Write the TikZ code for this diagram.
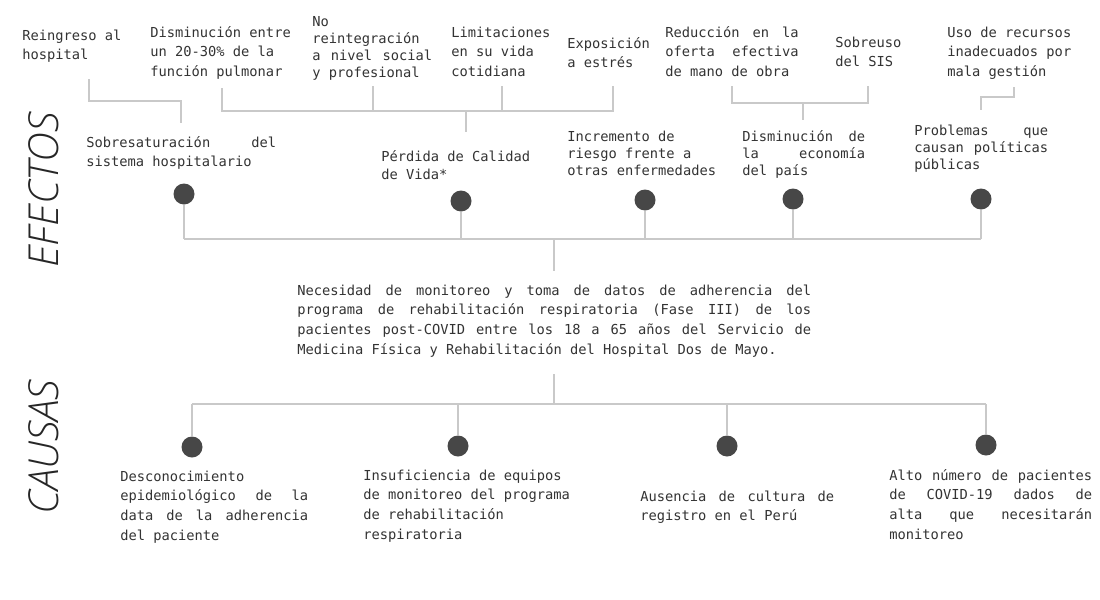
\documentclass[tikz,border=0pt]{standalone}
\usepackage{fontspec}
\setmonofont{DejaVu Sans Mono}
\newfontfamily\titlefont{Open Sans}[UprightFont=* Light, ItalicFont=* Light Italic]
\usepackage{tikz}
\usetikzlibrary{positioning}

\definecolor{linegray}{HTML}{C9C9C9}
\definecolor{dotgray}{HTML}{474747}
\definecolor{txtgray}{HTML}{333333}

% monospaced text, size fixed, line spacing as argument
\newcommand{\txtfont}[1]{\ttfamily\fontsize{10.3pt}{#1}\selectfont\spaceskip=6.2pt\relax}
% one justified line (spaces stretch to the full width)
\newcommand{\jline}[1]{\noindent\hbox to\hsize{\spaceskip=6.2pt plus 1fil\relax #1}}

\tikzset{
  lbl/.style={anchor=base west, inner sep=0pt, text=txtgray,
    text width=180pt, font={\txtfont{14.85pt}},
    execute at begin node={\spaceskip=6.2pt\relax}},
  lbltight/.style={lbl, font={\txtfont{12.75pt}}},
  bullet/.style={circle, fill=dotgray, inner sep=0pt, minimum size=15.75pt},
  link/.style={draw=linegray, line width=1.2pt},
  sidetitle/.style={rotate=90, inner sep=0pt, text=black!85,
    font=\titlefont\itshape\fontsize{31pt}{31pt}\selectfont}
}

\begin{document}
\begin{tikzpicture}[x=0.75pt, y=-0.75pt]
\useasboundingbox[fill=white] (0,0) rectangle (1100,600);

% side titles
\node[sidetitle] (efectos) at (44,190) {EFECTOS};
\node[sidetitle] (causas) at (44,447) {CAUSAS};

% upper row of effects
\node[lbl] (reingreso) at (22,40) {Reingreso al\\hospital};
\node[lbl] (pulmonar) at (150,37) {Disminución entre\\un 20-30\% de la\\función pulmonar};
\node[lbltight, text width=90pt] (noreint) at (312,26)
  {No\\reintegración\\\jline{a nivel social}\\y profesional};
\node[lbl] (limitac) at (451,37) {Limitaciones\\en su vida\\cotidiana};
\node[lbl] (estres) at (567,48) {Exposición\\a estrés};
\node[lbl, text width=100pt] (manoobra) at (665,37)
  {\jline{Reducción en la}\\\jline{oferta efectiva}\\de mano de obra};
\node[lbl] (sis) at (835,47) {Sobreuso\\del SIS};
\node[lbl] (recursos) at (947,37) {Uso de recursos\\inadecuados por\\mala gestión};

% main effects
\node[lbl, text width=142.5pt] (sobresat) at (86,147)
  {\jline{Sobresaturación del}\\sistema hospitalario};
\node[lbl, font={\txtfont{13.5pt}}] (calidad) at (381,161) {Pérdida de Calidad\\de Vida*};
\node[lbltight] (riesgo) at (567,141) {Incremento de\\riesgo frente a\\otras enfermedades};
\node[lbltight, text width=92.25pt] (economia) at (742,141)
  {\jline{Disminución de}\\\jline{la economía}\\del país};
\node[lbltight, text width=100.5pt] (politicas) at (914,135)
  {\jline{Problemas que}\\\jline{causan políticas}\\públicas};

% central problem
\node[lbl, text width=385.5pt] (problema) at (297,295)
  {\jline{Necesidad de monitoreo y toma de datos de adherencia del}\\
   \jline{programa de rehabilitación respiratoria (Fase III) de los}\\
   \jline{pacientes post-COVID entre los 18 a 65 años del Servicio de}\\
   Medicina Física y Rehabilitación del Hospital Dos de Mayo.};

% causes
\node[lbl, text width=141pt] (descon) at (120,481)
  {Desconocimiento\\\jline{epidemiológico de la}\\\jline{data de la adherencia}\\del paciente};
\node[lbl] (equipos) at (363,480)
  {Insuficiencia de equipos\\de monitoreo del programa\\de rehabilitación\\respiratoria};
\node[lbl, text width=145.5pt] (registro) at (640,501)
  {\jline{Ausencia de cultura de}\\registro en el Perú};
\node[lbl, text width=152.25pt] (altas) at (889,480)
  {\jline{Alto número de pacientes}\\\jline{de COVID-19 dados de}\\\jline{alta que necesitarán}\\monitoreo};

% dots
\foreach \n/\x/\y in {e1/184/194, e2/461/201, e3/645/200, e4/793/199, e5/981/199,
                      c1/192/447, c2/458/446, c3/727/446, c4/986/445}
  \node[bullet] (\n) at (\x,\y) {};

% junction points of the connectors
\coordinate (reinTop) at (89,79);
\coordinate (reinJoin) at (181,101);
\coordinate (reinEnd) at (181,123);
\coordinate (vidaA) at (222,88);
\coordinate (vidaB) at (373,86);
\coordinate (vidaC) at (502,86);
\coordinate (vidaD) at (613,86);
\coordinate (vidaJoin) at (466,111);
\coordinate (vidaEnd) at (466,132);
\coordinate (ecoA) at (732,86);
\coordinate (ecoB) at (868,86);
\coordinate (ecoJoin) at (803,103);
\coordinate (ecoEnd) at (803,120);
\coordinate (polTop) at (1014,87);
\coordinate (polJoin) at (1014,97);
\coordinate (polEnd) at (981,110);
\coordinate (efBus) at (554,239);
\coordinate (efEnd) at (554,271);
\coordinate (caTop) at (554,374);
\coordinate (caBus) at (554,404);

% upper connectors
\draw[link] (reinTop) |- (reinJoin) -- (reinEnd);
\draw[link] (vidaA) |- (vidaJoin) -| (vidaD);
\draw[link] (vidaB) -- (vidaB |- vidaJoin);
\draw[link] (vidaC) -- (vidaC |- vidaJoin);
\draw[link] (vidaJoin) -- (vidaEnd);
\draw[link] (ecoA) |- (ecoJoin) -| (ecoB);
\draw[link] (ecoJoin) -- (ecoEnd);
\draw[link] (polTop) -- (polJoin) -| (polEnd);

% effects bus
\draw[link] (e1 |- efBus) -- (e5 |- efBus);
\foreach \n in {e1,e2,e3,e4,e5}
  \draw[link] (\n) -- (\n |- efBus);
\draw[link] (efBus) -- (efEnd);

% causes bus
\draw[link] (caTop) -- (caBus);
\draw[link] (c1 |- caBus) -- (c4 |- caBus);
\foreach \n in {c1,c2,c3,c4}
  \draw[link] (\n) -- (\n |- caBus);
\end{tikzpicture}
\end{document}
